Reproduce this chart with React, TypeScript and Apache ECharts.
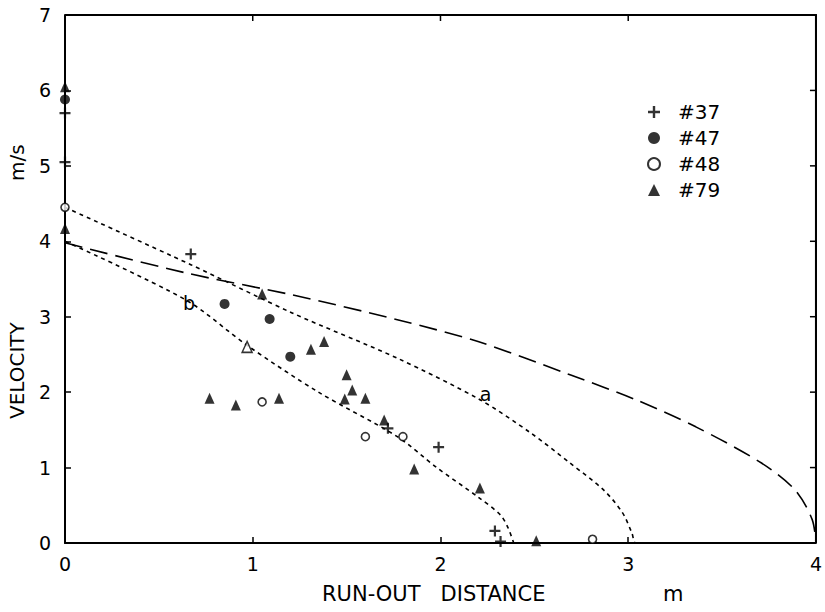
import React, { useEffect, useRef } from "react";
import * as echarts from "echarts";

// Measured points [run-out distance (m), velocity (m/s)]
const s37: number[][] = [[0, 5.7], [0, 5.05], [0.67, 3.83], [1.72, 1.52], [1.99, 1.27], [2.29, 0.16], [2.32, 0.02]];
const s47: number[][] = [[0, 5.88], [0.85, 3.17], [1.09, 2.97], [1.2, 2.47]];
const s48: number[][] = [[0, 4.45], [1.05, 1.87], [1.6, 1.41], [1.8, 1.41], [2.81, 0.05]];
const s79: number[][] = [
  [0, 6.05], [0, 4.17], [0.77, 1.92], [0.91, 1.83], [1.05, 3.3], [1.14, 1.92], [1.31, 2.57],
  [1.38, 2.67], [1.49, 1.91], [1.5, 2.23], [1.53, 2.03], [1.6, 1.92], [1.7, 1.63], [1.86, 0.98],
  [2.21, 0.73], [2.51, 0.03],
];
const s79open: number[][] = [[0.97, 2.6]];

// Model curves
const curveLong: number[][] = [
  [0, 3.98], [0.645, 3.58], [1.21, 3.29], [1.77, 2.96], [2.2, 2.67], [2.69, 2.23], [3.04, 1.9],
  [3.36, 1.54], [3.71, 1.06], [3.89, 0.7], [3.98, 0.31], [4.0, 0],
];
const curveA: number[][] = [
  [0, 4.45], [0.67, 3.69], [1.21, 3.05], [1.77, 2.45], [2.21, 1.9], [2.48, 1.46], [2.69, 1.06],
  [2.87, 0.7], [2.97, 0.4], [3.02, 0.13], [3.04, 0], [3.15, 0],
];
const curveB: number[][] = [
  [0, 4.0], [0.645, 3.22], [0.97, 2.62], [1.35, 2.0], [1.77, 1.41], [1.98, 1.0], [2.2, 0.61],
  [2.32, 0.37], [2.36, 0.2], [2.39, 0],
];
const curveLabels: { text: string; at: number[] }[] = [
  { text: "a", at: [2.24, 1.98] },
  { text: "b", at: [0.66, 3.18] },
];

const xTicks = [0, 1, 2, 3, 4];
const yTicks = [0, 1, 2, 3, 4, 5, 6, 7];
const topTicks = [1, 2, 3];
const rightTicks = [1, 2, 3, 4, 5, 6];
const legendNames = ["#37", "#47", "#48", "#79"];

const FONT = "DejaVu Sans, sans-serif";
const PLUS = "path://M4,0H6V4H10V6H6V10H4V6H0V4H4Z";

export default function App() {
  const ref = useRef<HTMLDivElement>(null);
  useEffect(() => {
    if (!ref.current) return;
    const chart = echarts.init(ref.current, null, { renderer: "svg" });
    const axisLine = () => ({ show: true, onZero: false, lineStyle: { color: "#000", width: 2 } });
    const tick = () => ({ show: true, inside: true, length: 6, lineStyle: { color: "#000", width: 1.5 } });
    const lineSeries = (name: string, data: number[][], dash: number[]) => ({
      name,
      type: "line",
      data,
      showSymbol: false,
      smooth: 0.3,
      lineStyle: { color: "#000", width: 1.6, type: dash },
      silent: true,
      z: 1,
    });
    const textStyle = { fontSize: 20, fill: "#000", fontFamily: FONT };
    // split-line colours: only the last (max) line is drawn, giving the top / right frame edges
    const xSplitColors = xTicks.map((_, i) => (i === xTicks.length - 1 ? "#000" : "rgba(0,0,0,0)"));
    const ySplitColors = yTicks.map((_, i) => (i === yTicks.length - 1 ? "#000" : "rgba(0,0,0,0)"));
    chart.setOption({
      animation: false,
      backgroundColor: "#fff",
      textStyle: { fontFamily: FONT },
      grid: { left: 65, right: 4, top: 15, bottom: 69 },
      legend: {
        data: legendNames,
        orient: "vertical",
        left: 647,
        top: 102,
        padding: 0,
        itemWidth: 12,
        itemHeight: 12,
        itemGap: 6,
        textStyle: { fontSize: 20, color: "#000", fontFamily: FONT, padding: [0, 0, 0, 13] },
      },
      xAxis: {
        type: "value", min: 0, max: 4, interval: 1, position: "bottom",
        axisLine: axisLine(), axisTick: tick(),
        splitLine: { show: true, lineStyle: { color: xSplitColors, width: 2, type: "solid" } },
        axisLabel: {
          fontSize: 19, color: "#000", margin: 11,
          formatter: (v: number) => (xTicks.includes(v) ? String(v) : ""),
        },
      },
      yAxis: {
        type: "value", min: 0, max: 7, interval: 1, position: "left",
        axisLine: axisLine(), axisTick: tick(),
        splitLine: { show: true, lineStyle: { color: ySplitColors, width: 2, type: "solid" } },
        axisLabel: {
          fontSize: 19, color: "#000", margin: 14,
          formatter: (v: number) => (yTicks.includes(v) ? String(v) : ""),
        },
      },
      series: [
        {
          name: "frame",
          type: "custom",
          silent: true,
          clip: false,
          z: 3,
          data: [[0, 0]],
          renderItem: (params: any, api: any) => {
            const tl = api.coord([0, 7]);
            const br = api.coord([4, 0]);
            const children: any[] = [
              {
                type: "polyline",
                shape: { points: [[tl[0], tl[1]], [br[0], tl[1]], [br[0], br[1]]] },
                style: { stroke: "#000", lineWidth: 2, fill: null },
              },
            ];
            topTicks.forEach((v) => {
              const p = api.coord([v, 7]);
              children.push({
                type: "line",
                shape: { x1: p[0], y1: p[1], x2: p[0], y2: p[1] + 6 },
                style: { stroke: "#000", lineWidth: 1.5 },
              });
            });
            rightTicks.forEach((v) => {
              const p = api.coord([4, v]);
              children.push({
                type: "line",
                shape: { x1: p[0] - 6, y1: p[1], x2: p[0], y2: p[1] },
                style: { stroke: "#000", lineWidth: 1.5 },
              });
            });
            return { type: "group", children };
          },
        },
        lineSeries("long", curveLong, [18, 8]),
        lineSeries("a", curveA, [4, 4]),
        lineSeries("b", curveB, [4, 4]),
        {
          name: "#37", type: "scatter", data: s37, symbol: PLUS, symbolSize: 11,
          itemStyle: { color: "#000" }, z: 5,
        },
        {
          name: "#47", type: "scatter", data: s47, symbol: "circle", symbolSize: 10,
          itemStyle: { color: "#000" }, z: 5,
        },
        {
          name: "#48", type: "scatter", data: s48, symbol: "circle", symbolSize: 8,
          itemStyle: { color: "#fff", borderColor: "#000", borderWidth: 1.6 }, z: 5,
        },
        {
          name: "#79", type: "scatter", symbol: "triangle", symbolSize: [10, 11],
          itemStyle: { color: "#000" }, z: 5,
          data: [
            ...s79,
            ...s79open.map((p) => ({ value: p, itemStyle: { color: "#fff", borderColor: "#000", borderWidth: 1.5 } })),
          ],
        },
      ],
    });
    const px = (pt: number[]) => {
      const r = chart.convertToPixel({ gridIndex: 0 }, pt) as number[];
      return [Number(r[0]), Number(r[1])];
    };
    const labelGraphics = curveLabels.map((d) => {
      const p = px(d.at);
      return {
        type: "text", x: p[0], y: p[1], z: 10,
        style: { text: d.text, fontSize: 19, fill: "#000", fontFamily: FONT, align: "center", verticalAlign: "middle" },
      };
    });
    chart.setOption({
      graphic: [
        ...labelGraphics,
        { type: "text", left: 322, top: 583, style: { ...textStyle, fontSize: 21, text: "RUN-OUT   DISTANCE" } },
        { type: "text", left: 663, top: 583, style: { ...textStyle, fontSize: 21, text: "m" } },
        { type: "text", x: 7, y: 419, rotation: Math.PI / 2, style: { ...textStyle, text: "VELOCITY" } },
        { type: "text", x: 7, y: 181, rotation: Math.PI / 2, style: { ...textStyle, text: "m/s" } },
      ],
    });
    return () => chart.dispose();
  }, []);
  return <div ref={ref} style={{ width: 825, height: 612, position: "absolute", left: 0, top: 0 }} />;
}
